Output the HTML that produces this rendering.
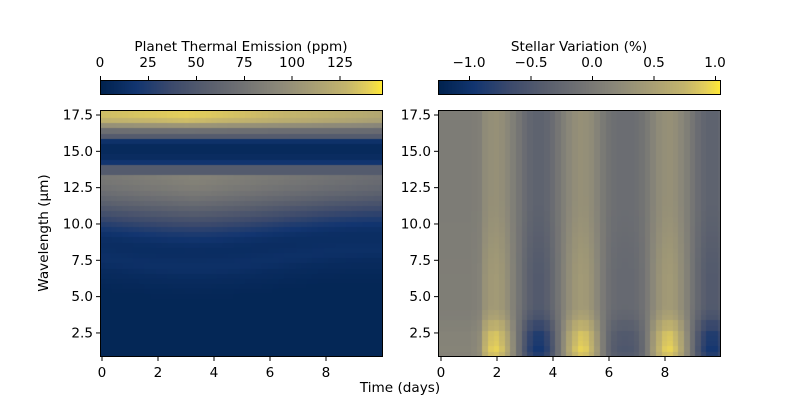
<!DOCTYPE html>
<html><head><meta charset="utf-8">
<style>
body{margin:0;background:#fff;}
#w{position:relative;width:800px;height:400px;overflow:hidden;font-family:"DejaVu Sans","Liberation Sans",sans-serif;}
canvas{position:absolute;}
svg{position:absolute;left:0;top:0;}
text{font-family:"DejaVu Sans","Liberation Sans",sans-serif;font-size:13.6px;fill:#000;}
</style></head><body>
<div id="w">
<canvas id="c1" width="282" height="246" style="left:100px;top:110px"></canvas>
<canvas id="c2" width="282" height="246" style="left:438px;top:110px"></canvas>
<canvas id="b1" width="282" height="14" style="left:100px;top:80px"></canvas>
<canvas id="b2" width="282" height="14" style="left:438px;top:80px"></canvas>
<svg width="800" height="400">
<g fill="none" stroke="#000" stroke-width="1">
<rect x="100.5" y="110.5" width="282" height="246"/>
<rect x="438.5" y="110.5" width="282" height="246"/>
<rect x="100.5" y="80.5" width="282" height="14"/>
<rect x="438.5" y="80.5" width="282" height="14"/>
</g>
<g stroke="#000">
<line x1="100.5" y1="76" x2="100.5" y2="80"/><line x1="148.5" y1="76" x2="148.5" y2="80"/><line x1="196.5" y1="76" x2="196.5" y2="80"/><line x1="244.5" y1="76" x2="244.5" y2="80"/><line x1="292" y1="76" x2="292" y2="80"/><line x1="340" y1="76" x2="340" y2="80"/>
<line x1="469.5" y1="76" x2="469.5" y2="80"/><line x1="531" y1="76" x2="531" y2="80"/><line x1="592.5" y1="76" x2="592.5" y2="80"/><line x1="654" y1="76" x2="654" y2="80"/><line x1="715.5" y1="76" x2="715.5" y2="80"/>
<g id="yt"></g>
</g>
<g text-anchor="middle">
<text x="241" y="51">Planet Thermal Emission (ppm)</text>
<text x="100" y="67">0</text><text x="148" y="67">25</text><text x="196" y="67">50</text><text x="244" y="67">75</text><text x="292" y="67">100</text><text x="340" y="67">125</text>
<text x="579" y="51">Stellar Variation (%)</text>
<text x="469" y="67">−1.0</text><text x="531" y="67">−0.5</text><text x="592" y="67">0.0</text><text x="654" y="67">0.5</text><text x="715" y="67">1.0</text>
<text x="400" y="392">Time (days)</text>
<text transform="translate(48,233) rotate(-90)">Wavelength (µm)</text>
</g>
<g id="labels"></g>
</svg>
</div>
<script>
var stops=[[0,0,34,78],[0.125,18,53,112],[0.25,59,73,108],[0.375,87,93,109],[0.5,112,113,115],[0.625,138,135,121],[0.75,166,157,117],[0.875,196,181,108],[0.95,228,207,91],[1,254,232,56]];
function cmap(v){v=Math.max(0,Math.min(1,v));for(var i=1;i<stops.length;i++){if(v<=stops[i][0]){var a=stops[i-1],b=stops[i],f=(v-a[0])/(b[0]-a[0]);return [a[1]+f*(b[1]-a[1]),a[2]+f*(b[2]-a[2]),a[3]+f*(b[3]-a[3])];}}return [254,232,56];}
function ss(a,b,x){var t=Math.max(0,Math.min(1,(x-a)/(b-a)));return t*t*(3-2*t);}
function draw(id,fn){var c=document.getElementById(id),g=c.getContext('2d'),im=g.createImageData(282,246);
for(var y=0;y<246;y++){var w=17.84-(y/246)*(17.84-0.91);w=Math.round(w*2.8)/2.8;
for(var x=0;x<282;x++){var t=-0.07+x/28;t=Math.round(t*5)/5;var col=cmap(fn(t,w));var k=(y*282+x)*4;im.data[k]=col[0];im.data[k+1]=col[1];im.data[k+2]=col[2];im.data[k+3]=255;}}
g.putImageData(im,0,0);}
draw('c1',function(t,w){
 if(w>16.0){var top=0.95-0.05*Math.abs(t-3)/3-0.03*Math.max(0,t-3)/6;return 0.36+(top-0.36)*ss(16.0,17.4,w);}
 if(w>14.2){var d=Math.abs(w-15.1);return 0.05+0.07*ss(0.3,0.8,d);}
 if(w>13.3) return 0.36-0.06*ss(14.2,13.6,w)*0+0.0;
 var A=0.6-0.13*Math.abs(t-3.3)/6.5;var b=7.7-0.6*Math.cos((t-3.2)*Math.PI/6.5);
 var v=A*ss(b+0.2,13.3,w);var blue=0.09*Math.exp(-Math.pow((w-b)/1.2,2));
 var base=0.03+0.04*ss(b-2.5,b,w);
 return Math.max(base,v+blue*(1-v*1.5));
});
draw('c2',function(t,w){
 var f=Math.cos(2*Math.PI*(t-1.95)/3.1);
 if(t<1.2) f=0.15;
 else if(t<1.5) f=0.2+0.4*(t-1.2);
 var tr=f<0?(1-0.5*Math.exp(-Math.pow((t-6.6)/0.8,2))):1;
 var amp=0.3+0.12*ss(12,6,w)+0.55*ss(4.5,1.8,w)*(0.85+0.15*Math.cos(w*8));
 var v=amp*f*tr;
 return 0.543+v*0.45;
});
function bar(id){var c=document.getElementById(id),g=c.getContext('2d');for(var x=0;x<282;x++){var col=cmap(x/281);g.fillStyle='rgb('+col.map(Math.round).join(',')+')';g.fillRect(x,0,1,14);}}
bar('b1');bar('b2');
var ns='http://www.w3.org/2000/svg',yt=document.getElementById('yt'),lb=document.getElementById('labels');
function el(tag,at,txt,p){var e=document.createElementNS(ns,tag);for(var k in at)e.setAttribute(k,at[k]);if(txt)e.textContent=txt;p.appendChild(e);}
[17.5,15,12.5,10,7.5,5,2.5].forEach(function(v){var y=115+(17.5-v)*14.53;
 [100,438].forEach(function(x0){el('line',{x1:x0-4,y1:y,x2:x0,y2:y},null,yt);el('text',{x:x0-7,y:y+4.5,'text-anchor':'end'},v.toFixed(1),lb);});});
[0,2,4,6,8].forEach(function(v){[102,441].forEach(function(x0){var x=x0+v*28;el('line',{x1:x,y1:357,x2:x,y2:361},null,yt);el('text',{x:x,y:377,'text-anchor':'middle'},String(v),lb);});});
</script>
</body></html>
